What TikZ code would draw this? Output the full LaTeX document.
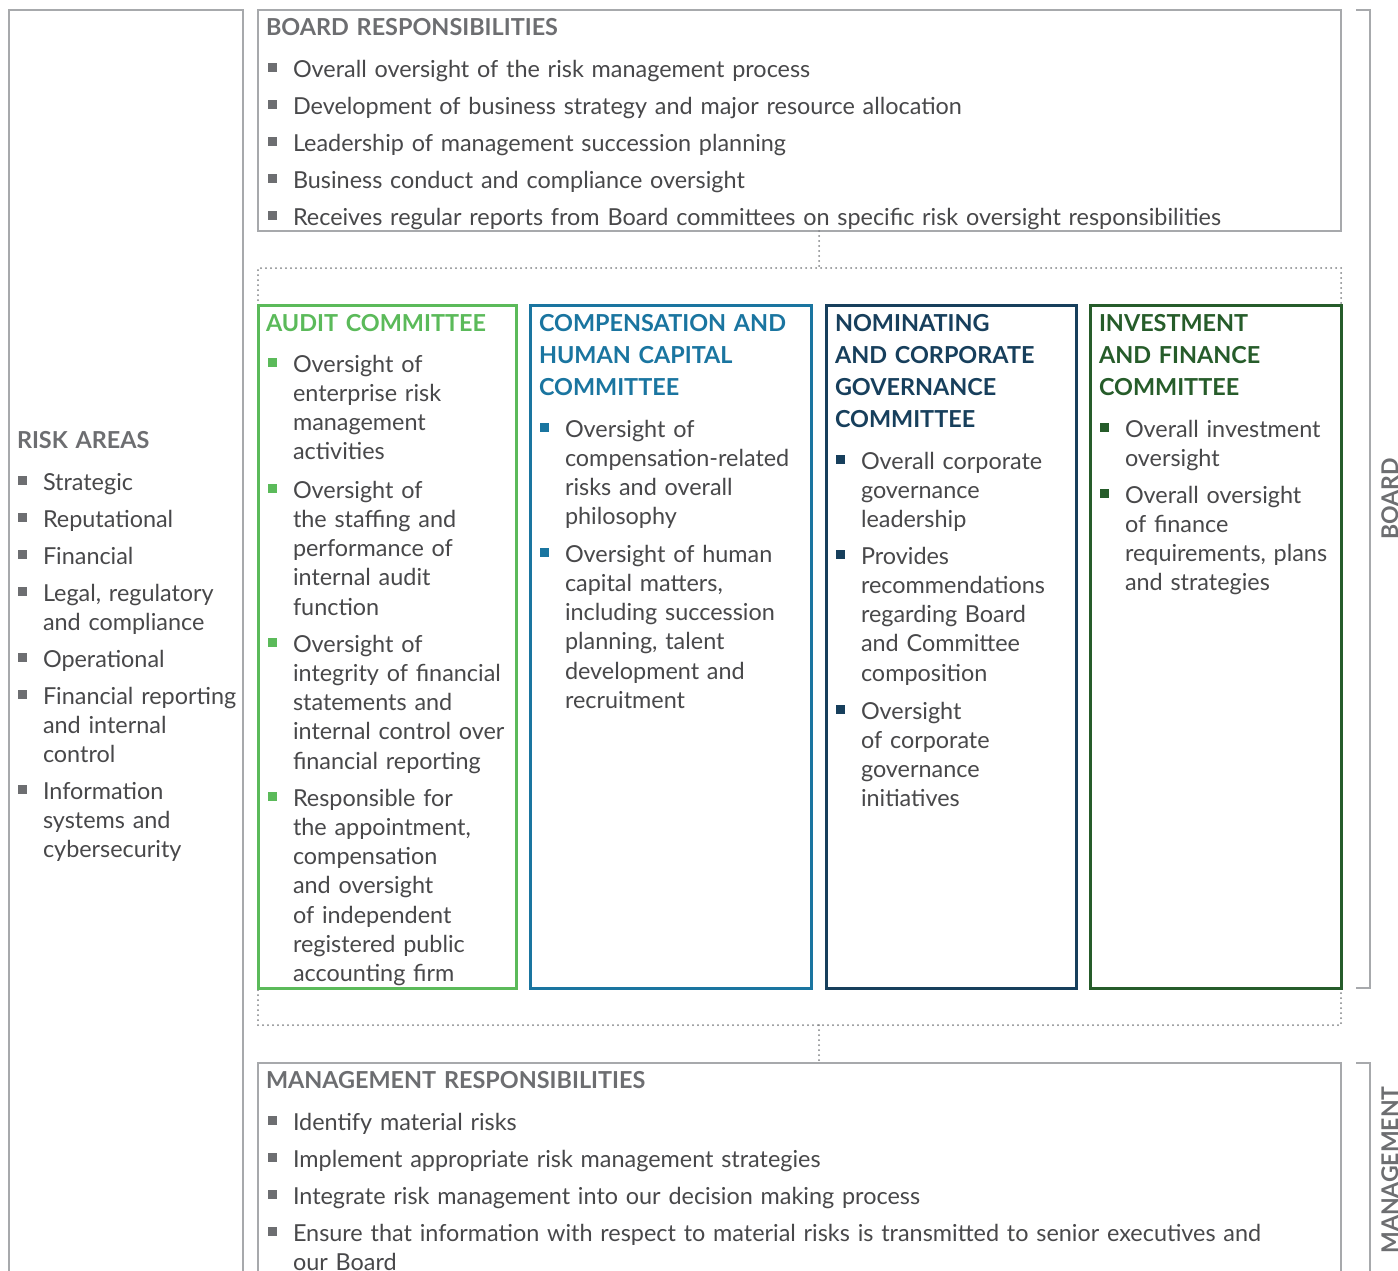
\documentclass[tikz,border=0pt]{standalone}
\usepackage{fontspec}
\setmainfont{Lato}[WordSpace=0.8]
\definecolor{boxgray}{HTML}{A7A9AC}
\definecolor{hdrgray}{HTML}{6D6E71}
\definecolor{txtgray}{HTML}{48484A}
\definecolor{dotgray}{HTML}{808285}
\definecolor{auditc}{HTML}{5BBA5A}
\definecolor{compc}{HTML}{1A75A0}
\definecolor{nomc}{HTML}{173F5C}
\definecolor{invc}{HTML}{265C2A}
\newcommand\bitem[5]{%
  \node[bul, fill=#2] (#1b) at (#3+4.5, #4-9.5) {};
  \node[itm] (#1) at (#3+25, #4) {#5};}
\begin{document}
\begin{tikzpicture}[x=1pt,y=-1pt,
  gbox/.style={rectangle, draw=boxgray, line width=2.5pt, inner sep=0pt, outer sep=0pt, anchor=north west},
  cbox/.style={rectangle, draw=#1, line width=3pt, inner sep=0pt, outer sep=0pt, anchor=north west},
  dotline/.style={draw=dotgray, line width=2pt, line cap=round, dash pattern=on 0pt off 5pt},
  bul/.style={rectangle, minimum size=9pt, inner sep=0pt, outer sep=0pt},
  itm/.style={anchor=base west, inner sep=0pt, outer sep=0pt, text width=1200pt, align=left, text=txtgray, font=\fontsize{23.4}{29.3}\selectfont},
  hdr/.style={anchor=base west, inner sep=0pt, outer sep=0pt, text width=500pt, align=left, font=\fontsize{23.4}{32}\selectfont\bfseries},
  side/.style={rotate=90, anchor=base, inner sep=0pt, outer sep=0pt, text=hdrgray, font=\fontsize{23}{28}\selectfont\bfseries},
  brk/.style={draw=boxgray, line width=2.5pt}]
\useasboundingbox (0,0) rectangle (1398,1270);
\clip (0,0) rectangle (1398,1270);
\fill[white] (0,0) rectangle (1398,1270);
\coordinate (cx) at (819,0);

% risk areas
\node[gbox, minimum width=234pt, minimum height=1400pt] (risk) at (9,10) {};
\node[hdr, text=hdrgray] (riskh) at (17,448) {RISK AREAS};
\bitem{r1}{hdrgray}{18}{490}{Strategic}
\bitem{r2}{hdrgray}{18}{527}{Reputational}
\bitem{r3}{hdrgray}{18}{564}{Financial}
\bitem{r4}{hdrgray}{18}{601}{Legal, regulatory\\and compliance}
\bitem{r5}{hdrgray}{18}{667}{Operational}
\bitem{r6}{hdrgray}{18}{704}{Financial reporting\\and internal\\control}
\bitem{r7}{hdrgray}{18}{799}{Information\\systems and\\cybersecurity}

% board responsibilities
\node[gbox, minimum width=1083pt, minimum height=221pt] (board) at (258,10) {};
\node[hdr, text=hdrgray] (boardh) at (266,35) {BOARD RESPONSIBILITIES};
\bitem{b1}{hdrgray}{268}{77}{Overall oversight of the risk management process}
\bitem{b2}{hdrgray}{268}{114}{Development of business strategy and major resource allocation}
\bitem{b3}{hdrgray}{268}{151}{Leadership of management succession planning}
\bitem{b4}{hdrgray}{268}{188}{Business conduct and compliance oversight}
\bitem{b5}{hdrgray}{268}{225}{Receives regular reports from Board committees on specific risk oversight responsibilities}

% committees frame
\node[rectangle, dotline, inner sep=0pt, outer sep=0pt, anchor=north west, minimum width=1083pt, minimum height=757pt] (cmt) at (258,268) {};
\draw[dotline] (board.south -| cx) -- (cmt.north -| cx);

% audit
\node[cbox=auditc, minimum width=258pt, minimum height=683pt] (audit) at (258,305) {};
\node[hdr, text=auditc] (audith) at (266,331) {AUDIT COMMITTEE};
\bitem{a1}{auditc}{268}{372}{Oversight of\\enterprise risk\\management\\activities}
\bitem{a2}{auditc}{268}{498}{Oversight of\\the staffing and\\performance of\\internal audit\\function}
\bitem{a3}{auditc}{268}{652}{Oversight of\\integrity of financial\\statements and\\internal control over\\financial reporting}
\bitem{a4}{auditc}{268}{806}{Responsible for\\the appointment,\\compensation\\and oversight\\of independent\\registered public\\accounting firm}

% compensation
\node[cbox=compc, minimum width=281pt, minimum height=683pt] (comp) at (530,305) {};
\node[hdr, text=compc] (comph) at (539,331) {COMPENSATION AND\\HUMAN CAPITAL\\COMMITTEE};
\bitem{c1}{compc}{540}{437}{Oversight of\\compensation-related\\risks and overall\\philosophy}
\bitem{c2}{compc}{540}{562}{Oversight of human\\capital matters,\\including succession\\planning, talent\\development and\\recruitment}

% nominating
\node[cbox=nomc, minimum width=250pt, minimum height=683pt] (nom) at (826,305) {};
\node[hdr, text=nomc] (nomh) at (835,331) {NOMINATING\\AND CORPORATE\\GOVERNANCE\\COMMITTEE};
\bitem{n1}{nomc}{836}{469}{Overall corporate\\governance\\leadership}
\bitem{n2}{nomc}{836}{564}{Provides\\recommendations\\regarding Board\\and Committee\\composition}
\bitem{n3}{nomc}{836}{719}{Oversight\\of corporate\\governance\\initiatives}

% investment
\node[cbox=invc, minimum width=251pt, minimum height=683pt] (inv) at (1090,305) {};
\node[hdr, text=invc] (invh) at (1099,331) {INVESTMENT\\AND FINANCE\\COMMITTEE};
\bitem{i1}{invc}{1100}{437}{Overall investment\\oversight}
\bitem{i2}{invc}{1100}{503}{Overall oversight\\of finance\\requirements, plans\\and strategies}

% management
\node[gbox, minimum width=1083pt, minimum height=400pt] (mgmt) at (258,1063) {};
\draw[dotline] (cmt.south -| cx) -- (mgmt.north -| cx);
\node[hdr, text=hdrgray] (mgmth) at (266,1088) {MANAGEMENT RESPONSIBILITIES};
\bitem{m1}{hdrgray}{268}{1130}{Identify material risks}
\bitem{m2}{hdrgray}{268}{1167}{Implement appropriate risk management strategies}
\bitem{m3}{hdrgray}{268}{1204}{Integrate risk management into our decision making process}
\bitem{m4}{hdrgray}{268}{1241}{Ensure that information with respect to material risks is transmitted to senior executives and\\our Board}

% side brackets and labels
\draw[brk] (1356,10) -- (1370,10) -- (1370,988) -- (1356,988);
\draw[brk] (1356,1063) -- (1370,1063) -- (1370,1400);
\node[side] (boardl) at (1398,499) {BOARD};
\node[side] (mgmtl) at (1398,1170) {MANAGEMENT};
\end{tikzpicture}
\end{document}
